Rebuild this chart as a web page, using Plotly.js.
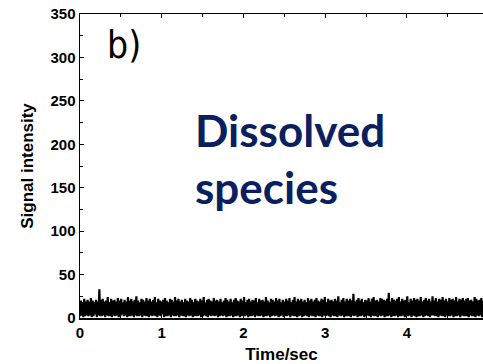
<!DOCTYPE html>
<html>
<head>
<meta charset="utf-8">
<script src="https://cdn.plot.ly/plotly-3.0.1.min.js"></script>
<style>html,body{margin:0;padding:0;background:#fff;}#chart{width:483px;height:364px;}</style>
</head>
<body>
<div id="chart"></div>
<script>
// Signal trace (Time/sec from 0 to ~4.93 s, uniformly sampled)
const timeStart = 0;
const timeEnd = 4.93;
const signal = [
  2,20,3,18,1,22,2,19,3,21,2,19,3,23,1,20,2,18,4,21,
  1,19,3,33,2,21,2,22,3,19,1,20,3,24,2,18,2,22,1,20,
  3,21,2,19,3,23,1,20,2,22,4,18,2,21,3,19,1,24,2,20,
  2,22,3,19,1,21,3,25,2,20,2,18,3,22,1,21,3,19,2,23,
  2,20,1,22,3,19,2,21,3,24,2,18,1,22,3,20,2,19,4,21,
  1,23,2,20,2,18,3,22,1,21,3,19,2,24,2,20,3,22,1,19,
  3,21,2,18,2,22,1,20,3,19,2,23,3,21,1,18,2,22,2,20,
  2,19,3,22,1,20,2,24,3,18,2,21,1,22,3,20,2,19,3,23,
  2,20,3,21,1,19,2,22,3,18,2,20,3,23,1,21,2,19,2,22,
  3,18,1,21,2,23,2,20,3,19,1,22,2,20,3,24,2,18,3,21,
  1,22,2,19,2,21,3,20,1,23,3,18,2,22,2,20,3,21,1,19,
  2,24,2,20,3,18,1,22,2,21,3,19,2,23,3,20,1,22,2,18,
  3,21,1,19,2,22,2,20,3,23,1,18,3,21,2,24,2,19,1,22,
  2,20,3,22,1,19,2,21,3,18,2,23,1,20,3,22,2,19,2,21,
  1,23,3,20,2,19,2,22,1,21,3,24,2,18,3,22,2,20,1,21,
  3,19,2,22,2,20,1,25,3,18,2,21,3,23,1,19,2,22,2,20,
  2,22,1,20,3,28,2,19,3,21,1,23,2,20,2,22,3,18,1,21,
  2,20,3,23,2,19,1,22,3,24,2,20,2,21,1,19,3,23,2,22,
  3,21,1,20,2,22,2,29,3,19,1,23,2,21,2,20,3,22,1,24,
  2,19,2,22,3,20,1,21,2,25,2,18,3,22,1,20,3,23,2,21,
  1,22,2,20,2,24,3,19,1,21,2,23,3,20,2,22,1,19,3,25,
  3,20,2,23,2,19,1,22,3,21,2,24,2,20,1,22,3,19,2,23,
  2,21,3,22,1,20,2,24,2,19,3,22,1,21,3,23,2,20,2,22,
  2,23,1,20,3,21,2,19,2,24,1,22,3,20,2,21,3,23,1,20
];
const xTickVals = [0, 1, 2, 3, 4];
const yTickVals = [0, 50, 100, 150, 200, 250, 300, 350];
const panelLabel = "b)";
const noteLines = ["Dissolved", "species"];
const xTitle = "Time/sec";
const yTitle = "Signal intensity";

const trace = {
  type: "scatter",
  mode: "lines",
  y: signal,
  x0: timeStart,
  dx: (timeEnd - timeStart) / (signal.length - 1),
  line: {color: "#000", width: 2.2},
  hoverinfo: "skip"
};

const tickFont = {family: "Arial, 'Liberation Sans', sans-serif", size: 15, color: "#000", weight: 700};

const layout = {
  width: 483, height: 364,
  margin: {l: 80, r: 0, t: 14, b: 46},
  paper_bgcolor: "#fff", plot_bgcolor: "#fff",
  showlegend: false,
  font: {family: "Arial, 'Liberation Sans', sans-serif", color: "#000"},
  xaxis: {
    range: [0, timeEnd],
    tickvals: xTickVals,
    ticks: "inside", ticklen: 4, tickwidth: 1, tickcolor: "#000",
    minor: {dtick: 0.5, ticks: "inside", ticklen: 3, tickcolor: "#000"},
    showline: true, linecolor: "#000", linewidth: 1.5, mirror: "ticks",
    showgrid: false, zeroline: false,
    tickfont: tickFont,
    title: {text: xTitle, font: {family: "Arial, 'Liberation Sans', sans-serif", size: 17, color: "#000", weight: 700}, standoff: 10}
  },
  yaxis: {
    range: [0, 350],
    tickvals: yTickVals,
    ticks: "inside", ticklen: 4, tickwidth: 1, tickcolor: "#000",
    minor: {dtick: 25, ticks: "inside", ticklen: 3, tickcolor: "#000"},
    showline: true, linecolor: "#000", linewidth: 1.5, mirror: false,
    showgrid: false, zeroline: false,
    tickfont: tickFont,
    title: {text: yTitle, font: {family: "Arial, 'Liberation Sans', sans-serif", size: 17, color: "#000", weight: 700}, standoff: 12}
  },
  annotations: [
    {text: panelLabel, xref: "paper", yref: "paper", x: 0.062, y: 0.895, xanchor: "left", yanchor: "middle",
     showarrow: false, font: {family: "'Liberation Sans Narrow', 'DejaVu Sans Condensed', Arial, sans-serif", size: 37, color: "#000"}},
    {text: noteLines[0], xref: "paper", yref: "paper", x: 0.28, y: 0.62, xanchor: "left", yanchor: "middle",
     showarrow: false, font: {family: "Lato, 'Noto Sans', sans-serif", size: 44, color: "#0b1f5e", weight: 700}},
    {text: noteLines[1], xref: "paper", yref: "paper", x: 0.28, y: 0.43, xanchor: "left", yanchor: "middle",
     showarrow: false, font: {family: "Lato, 'Noto Sans', sans-serif", size: 44, color: "#0b1f5e", weight: 700}}
  ]
};

Plotly.newPlot("chart", [trace], layout, {displayModeBar: false, staticPlot: true});
</script>
</body>
</html>
